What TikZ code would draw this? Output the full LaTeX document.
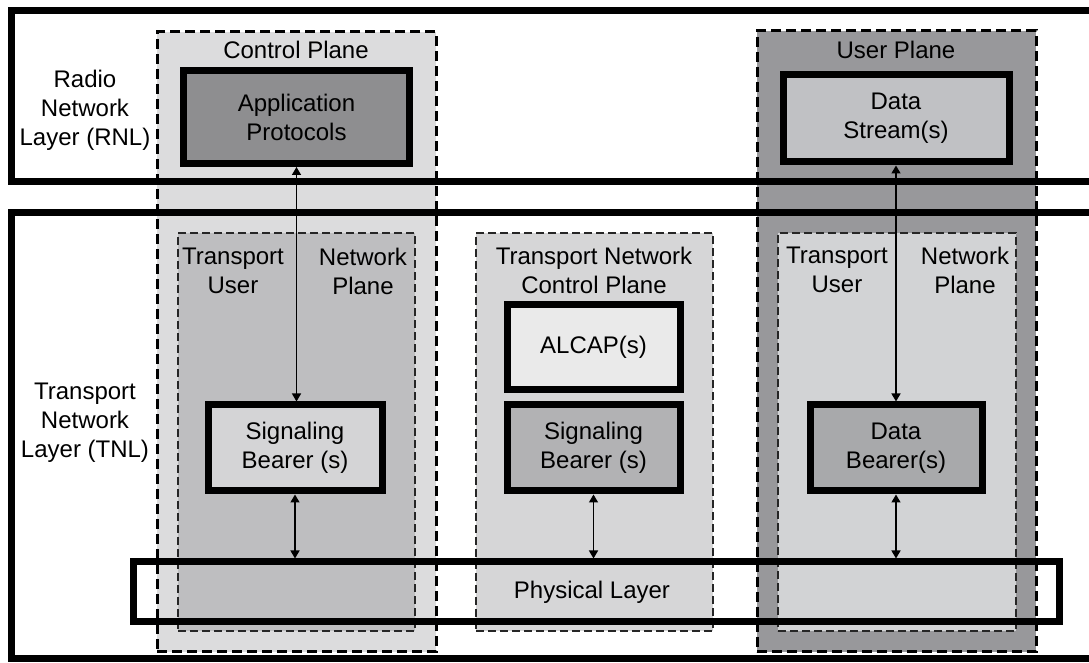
\documentclass[tikz,border=0pt]{standalone}
\usepackage{fontspec}
\setmainfont{Liberation Sans}
\usetikzlibrary{fit,arrows.meta}

\definecolor{cpfill}{RGB}{220,220,221}
\definecolor{upfill}{RGB}{152,152,155}
\definecolor{tulfill}{RGB}{190,190,192}
\definecolor{turfill}{RGB}{210,211,213}
\definecolor{tncfill}{RGB}{214,214,215}
\definecolor{appfill}{RGB}{142,142,144}
\definecolor{dsfill}{RGB}{192,193,196}
\definecolor{sblfill}{RGB}{212,212,214}
\definecolor{sbmfill}{RGB}{178,178,180}
\definecolor{alcfill}{RGB}{234,234,234}
\definecolor{dbfill}{RGB}{168,169,171}

\begin{document}
\begin{tikzpicture}[x=0.5pt,y=-0.5pt,
  font=\fontsize{12}{14.5}\selectfont,
  plane/.style={draw=black, line width=1.5pt, dash pattern=on 5pt off 2.5pt, inner sep=0pt},
  subplane/.style={draw=black!85, line width=0.6pt, dash pattern=on 4pt off 2pt, inner sep=0pt},
  layerbox/.style={draw=black, line width=3.5pt, inner sep=0pt},
  block/.style={draw=black, line width=3.5pt, inner sep=0pt},
  lbl/.style={align=center, inner sep=0pt},
  blocktext/.style={label={[lbl]center:#1}},
  link/.style={line width=0.7pt, {Triangle[length=4pt,width=4.5pt]}-{Triangle[length=4pt,width=4.5pt]}}]

\useasboundingbox (0,0) rectangle (1089,663);
\clip (0,0) rectangle (1089,663);

% planes
\node[plane, fill=cpfill, fit={(157,32)(436,652)}] (cp) {};
\node[plane, fill=upfill, fit={(757,31)(1036,652)}] (up) {};

% transport user / network planes and transport network control plane
\node[subplane, fill=tulfill, fit={(178,233)(415,631)}] (tul) {};
\node[subplane, fill=tncfill, fit={(476,233)(713,631)}] (tnc) {};
\node[subplane, fill=turfill, fit={(778,233)(1016,631)}] (tur) {};

% layers
\node[layerbox, fit={(11,11)(1100,182)}] (rnl) {};
\node[layerbox, fit={(11,213)(1100,659)}] (tnl) {};
\node[layerbox, fit={(133,562)(1059,622)}] (phy) {};

% titles and labels
\node[lbl] (cpt) at (296,50) {Control Plane};
\node[lbl] (upt) at (896,50) {User Plane};
\node[lbl] (rnlt) at (85,110) {Radio\\Network\\Layer (RNL)};
\node[lbl] (tnlt) at (85,423) {Transport\\Network\\Layer (TNL)};
\node[lbl] (tult) at (233,271) {Transport\\User};
\node[lbl] (tnlp) at (363,271) {Network\\Plane};
\node[lbl] (tnct) at (594,270) {Transport Network\\Control Plane};
\node[lbl] (turt) at (837,270) {Transport\\User};
\node[lbl] (turp) at (965,270) {Network\\Plane};
\node[lbl] (phyt) at (592,592) {Physical Layer};

% protocol blocks
\node[block, fill=appfill, fit={(183.5,70.5)(409.5,163.5)}, blocktext={Application\\Protocols}] (app) {};
\node[block, fill=dsfill, fit={(783,75)(1009,162)}, blocktext={Data\\Stream(s)}] (ds) {};
\node[block, fill=sblfill, fit={(208,405)(382,491)}, blocktext={Signaling\\Bearer (s)}] (sbl) {};
\node[block, fill=alcfill, fit={(507,305)(680,390)}, blocktext={ALCAP(s)}] (alc) {};
\node[block, fill=sbmfill, fit={(507,405)(680,491)}, blocktext={Signaling\\Bearer (s)}] (sbm) {};
\node[block, fill=dbfill, fit={(810,405)(982,491)}, blocktext={Data\\Bearer(s)}] (db) {};

% connectors
\draw[link] (app.south) -- (app.south |- sbl.north);
\draw[link] (ds.south) -- (ds.south |- db.north);
\draw[link] (sbl.south) -- (sbl.south |- phy.north);
\draw[link] (sbm.south) -- (sbm.south |- phy.north);
\draw[link] (db.south) -- (db.south |- phy.north);
\end{tikzpicture}
\end{document}
